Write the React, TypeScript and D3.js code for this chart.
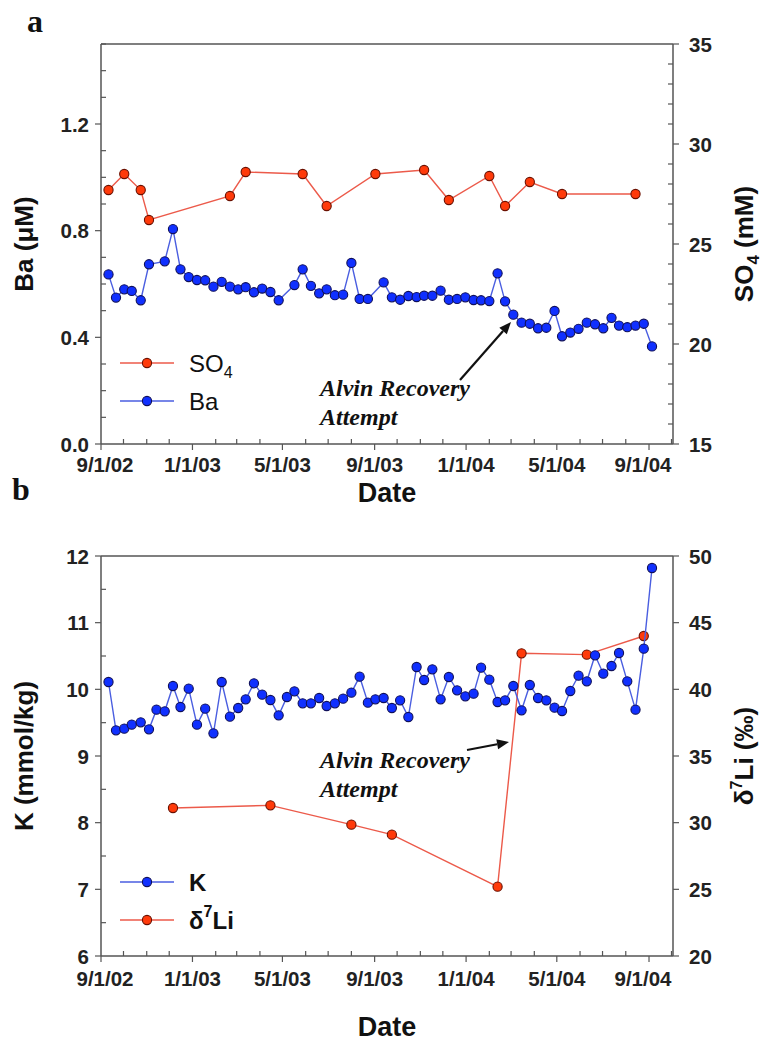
import React from "react";
import * as d3 from "d3";

// ---------- data ----------
const so4Dates = ["2002-09-11","2002-10-02","2002-10-24","2002-11-04","2003-02-20","2003-03-13","2003-05-28","2003-06-29","2003-09-02","2003-11-06","2003-12-09","2004-02-01","2004-02-22","2004-03-26","2004-05-08","2004-08-14"];
const so4Values = [27.7,28.5,27.7,26.2,27.4,28.6,28.5,26.9,28.5,28.7,27.2,28.4,26.9,28.1,27.5,27.5];

const baDates = ["2002-09-11","2002-09-21","2002-10-02","2002-10-12","2002-10-24","2002-11-04","2002-11-25","2002-12-06","2002-12-16","2002-12-27","2003-01-07","2003-01-18","2003-01-29","2003-02-09","2003-02-20","2003-03-03","2003-03-13","2003-03-24","2003-04-04","2003-04-15","2003-04-26","2003-05-17","2003-05-28","2003-06-08","2003-06-19","2003-06-29","2003-07-10","2003-07-21","2003-08-01","2003-08-12","2003-08-23",
"2003-09-13","2003-09-24","2003-10-05","2003-10-16","2003-10-27","2003-11-06","2003-11-17","2003-11-28","2003-12-09","2003-12-20","2003-12-31","2004-01-11","2004-01-21","2004-02-01","2004-02-12","2004-02-22","2004-03-04","2004-03-15","2004-03-26","2004-04-06","2004-04-17","2004-04-28","2004-05-08","2004-05-19","2004-05-30","2004-06-10","2004-06-21","2004-07-02","2004-07-13","2004-07-23","2004-08-03","2004-08-14","2004-08-25","2004-09-05"];
const baValues = [0.636,0.549,0.580,0.574,0.539,0.674,0.685,0.806,0.655,0.626,0.615,0.614,0.590,0.608,0.590,0.580,0.588,0.569,0.583,0.570,0.539,0.596,0.655,0.593,0.565,0.580,0.558,0.560,0.679,0.544,0.544,
0.606,0.550,0.541,0.555,0.551,0.556,0.556,0.575,0.541,0.544,0.550,0.540,0.539,0.536,0.640,0.535,0.485,0.455,0.451,0.434,0.436,0.499,0.404,0.418,0.432,0.455,0.449,0.434,0.473,0.444,0.438,0.444,0.451,0.366];

const kDates = ["2002-09-11","2002-09-21","2002-10-02","2002-10-12","2002-10-24","2002-11-04","2002-11-14","2002-11-25","2002-12-06","2002-12-16","2002-12-27","2003-01-07","2003-01-18","2003-01-29","2003-02-09","2003-02-20","2003-03-03","2003-03-13","2003-03-24","2003-04-04","2003-04-15","2003-04-26","2003-05-07","2003-05-17","2003-05-28","2003-06-08","2003-06-19","2003-06-29","2003-07-10","2003-07-21","2003-08-01","2003-08-12","2003-08-23","2003-09-02",
"2003-09-13","2003-09-24","2003-10-05","2003-10-16","2003-10-27","2003-11-06","2003-11-17","2003-11-28","2003-12-09","2003-12-20","2003-12-31","2004-01-11","2004-01-21","2004-02-01","2004-02-12","2004-02-22","2004-03-04","2004-03-15","2004-03-26","2004-04-06","2004-04-17","2004-04-28","2004-05-08","2004-05-19","2004-05-30","2004-06-10","2004-06-21","2004-07-02","2004-07-13","2004-07-23","2004-08-03","2004-08-14","2004-08-25","2004-09-05"];
const kValues = [10.11,9.385,9.41,9.47,9.505,9.40,9.695,9.67,10.05,9.735,10.01,9.47,9.71,9.34,10.11,9.59,9.72,9.85,10.09,9.92,9.84,9.61,9.885,9.97,9.79,9.79,9.87,9.75,9.79,9.86,9.95,10.19,9.80,9.85,
9.87,9.72,9.835,9.585,10.335,10.14,10.30,9.85,10.185,9.985,9.895,9.935,10.325,10.145,9.81,9.835,10.05,9.685,10.065,9.87,9.835,9.725,9.675,9.975,10.205,10.12,10.51,10.235,10.35,10.545,10.12,9.695,10.61,11.82];

const liDates = ["2002-12-06","2003-04-15","2003-08-01","2003-09-24","2004-02-12","2004-03-15","2004-06-10","2004-08-25"];
const liValues = [31.1,31.3,29.85,29.1,25.2,42.7,42.6,44.0];

const baTicks = [0, 0.4, 0.8, 1.2];
const so4Ticks = [15, 20, 25, 30, 35];
const kTicks = [6, 7, 8, 9, 10, 11, 12];
const liTicks = [20, 25, 30, 35, 40, 45, 50];

// ---------- layout ----------
const W = 766, H = 1042;
const X0 = 101, X1 = 673;
const TOP_A = 44, BOT_A = 444;
const TOP_B = 556, BOT_B = 956;
const SANS = "'Liberation Sans', Arial, Helvetica, sans-serif";
const SERIF = "'Liberation Serif', 'Times New Roman', serif";
const AX = "#555";
const TICK_FS = 20.5;
const TITLE_FS = 26;
const RED_LINE = "#ec5a4a", RED_FILL = "#ff3a0a", RED_STROKE = "#6a1000";
const BLUE_LINE = "#4a5ee0", BLUE_FILL = "#1030ff", BLUE_STROKE = "#10105a";

const parse = d3.utcParse("%Y-%m-%d");
const x = d3.scaleUtc().domain([parse("2002-09-01")!, parse("2004-10-03")!]).range([X0, X1]);
const yBa = d3.scaleLinear().domain([0, 1.5]).range([BOT_A, TOP_A]);
const ySO4 = d3.scaleLinear().domain([15, 35]).range([BOT_A, TOP_A]);
const yK = d3.scaleLinear().domain([6, 12]).range([BOT_B, TOP_B]);
const yLi = d3.scaleLinear().domain([20, 50]).range([BOT_B, TOP_B]);

const months = d3.utcMonth.range(parse("2002-09-01")!, parse("2004-10-02")!);

function Series({ dates, values, y, line, fill, stroke }: any) {
  const pts: [number, number][] = dates.map((d: string, i: number) => [x(parse(d)!), y(values[i])]);
  const path = d3.line()(pts) || "";
  return (
    <g>
      <path d={path} fill="none" stroke={line} strokeWidth={1.4} />
      {pts.map((p, i) => (
        <circle key={i} cx={p[0]} cy={p[1]} r={4.6} fill={fill} stroke={stroke} strokeWidth={1.1} />
      ))}
    </g>
  );
}

function XAxis({ yPos, labelY }: { yPos: number; labelY: number }) {
  return (
    <g>
      <line x1={X0} x2={X1} y1={yPos} y2={yPos} stroke={AX} strokeWidth={1.5} />
      {months.map((m, i) => {
        const major = m.getUTCMonth() % 4 === 0;
        const px = x(m);
        return <line key={i} x1={px} x2={px} y1={yPos} y2={major ? yPos + 6 : yPos - 5} stroke={AX} strokeWidth={1.2} />;
      })}
      {months.filter((m) => m.getUTCMonth() % 4 === 0).map((m, i, arr) => {
        const label = `${m.getUTCMonth() + 1}/1/${String(m.getUTCFullYear()).slice(2)}`;
        const dx = i === 0 ? 4 : i === arr.length - 1 ? -6 : 0;
        return (
          <text key={i} x={x(m) + dx} y={labelY} textAnchor="middle" fontFamily={SANS} fontWeight="bold" fontSize={TICK_FS} fill="#222">
            {label}
          </text>
        );
      })}
    </g>
  );
}

function LeftAxis({ scale, minorStep, majors, top, bot, fmt }: any) {
  const [d0, d1] = scale.domain();
  const minors = d3.range(d0, d1 + 1e-9, minorStep);
  return (
    <g>
      <line x1={X0} x2={X0} y1={top} y2={bot} stroke={AX} strokeWidth={1.5} />
      {minors.map((v: number, i: number) => {
        const isMajor = majors.some((m: number) => Math.abs(m - v) < 1e-6);
        return <line key={i} x1={X0} x2={isMajor ? X0 - 6 : X0 + 5} y1={scale(v)} y2={scale(v)} stroke={AX} strokeWidth={1.2} />;
      })}
      {majors.map((v: number, i: number) => (
        <text key={i} x={X0 - 12} y={scale(v) + 7.5} textAnchor="end" fontFamily={SANS} fontWeight="bold" fontSize={TICK_FS} fill="#222">
          {fmt(v)}
        </text>
      ))}
    </g>
  );
}

function RightAxis({ scale, minorStep, majors, top, bot }: any) {
  const [d0, d1] = scale.domain();
  const minors = minorStep ? d3.range(d0, d1 + 1e-9, minorStep) : majors;
  return (
    <g>
      <line x1={X1} x2={X1} y1={top} y2={bot} stroke={AX} strokeWidth={1.5} />
      {minors.map((v: number, i: number) => {
        const isMajor = majors.some((m: number) => Math.abs(m - v) < 1e-6);
        return <line key={i} x1={X1} x2={isMajor ? X1 + 6 : X1 - 5} y1={scale(v)} y2={scale(v)} stroke={AX} strokeWidth={1.2} />;
      })}
      {majors.map((v: number, i: number) => (
        <text key={i} x={X1 + 16} y={scale(v) + 7.5} textAnchor="start" fontFamily={SANS} fontWeight="bold" fontSize={TICK_FS} fill="#222">
          {v}
        </text>
      ))}
    </g>
  );
}

function Arrow({ x1, y1, x2, y2 }: any) {
  const ang = Math.atan2(y2 - y1, x2 - x1);
  const L = 12, Wd = 5;
  const bx = x2 - L * Math.cos(ang), by = y2 - L * Math.sin(ang);
  const p1 = [bx + Wd * Math.sin(ang), by - Wd * Math.cos(ang)];
  const p2 = [bx - Wd * Math.sin(ang), by + Wd * Math.cos(ang)];
  return (
    <g>
      <line x1={x1} y1={y1} x2={bx} y2={by} stroke="#111" strokeWidth={2.2} />
      <polygon points={`${x2},${y2} ${p1[0]},${p1[1]} ${p2[0]},${p2[1]}`} fill="#111" />
    </g>
  );
}

function LegendItem({ y, line, fill, stroke, children, bold }: any) {
  return (
    <g>
      <line x1={120} x2={174} y1={y} y2={y} stroke={line} strokeWidth={1.4} />
      <circle cx={147} cy={y} r={4.6} fill={fill} stroke={stroke} strokeWidth={1.1} />
      <text x={189} y={y + 8.5} fontFamily={SANS} fontWeight={bold ? "bold" : "normal"} fontSize={24} fill="#111">
        {children}
      </text>
    </g>
  );
}

export default function App() {
  const midA = (TOP_A + BOT_A) / 2;
  const midB = (TOP_B + BOT_B) / 2;
  const midX = (X0 + X1) / 2;
  const annot = { fontFamily: SERIF, fontStyle: "italic", fontWeight: "bold", fontSize: 24, fill: "#111" } as any;
  return (
    <svg width={W} height={H} viewBox={`0 0 ${W} ${H}`} style={{ position: "absolute", left: 0, top: 0, background: "#fff" }}>
      <rect width={W} height={H} fill="#fff" />
      {/* ---------- Panel a ---------- */}
      <text x={27} y={32} fontFamily={SERIF} fontWeight="bold" fontSize={32} fill="#111">a</text>
      <line x1={X0} x2={X1} y1={TOP_A} y2={TOP_A} stroke={AX} strokeWidth={1.5} />
      <LeftAxis scale={yBa} minorStep={0.1} majors={baTicks} top={TOP_A} bot={BOT_A} fmt={(v: number) => v.toFixed(1)} />
      <RightAxis scale={ySO4} minorStep={1} majors={so4Ticks} top={TOP_A} bot={BOT_A} />
      <XAxis yPos={BOT_A} labelY={472} />
      <Series dates={so4Dates} values={so4Values} y={ySO4} line={RED_LINE} fill={RED_FILL} stroke={RED_STROKE} />
      <Series dates={baDates} values={baValues} y={yBa} line={BLUE_LINE} fill={BLUE_FILL} stroke={BLUE_STROKE} />
      <text transform={`translate(33,${midA}) rotate(-90)`} textAnchor="middle" fontFamily={SANS} fontWeight="bold" fontSize={TITLE_FS} fill="#111">Ba (μM)</text>
      <text transform={`translate(753,${midA}) rotate(-90)`} textAnchor="middle" fontFamily={SANS} fontWeight="bold" fontSize={TITLE_FS} fill="#111">
        SO<tspan fontSize={17} dy={6}>4</tspan><tspan dy={-6}> (mM)</tspan>
      </text>
      <text x={midX} y={502} textAnchor="middle" fontFamily={SANS} fontWeight="bold" fontSize={27} fill="#111">Date</text>
      <LegendItem y={363} line={RED_LINE} fill={RED_FILL} stroke={RED_STROKE}>
        SO<tspan fontSize={16} dy={6}>4</tspan>
      </LegendItem>
      <LegendItem y={401} line={BLUE_LINE} fill={BLUE_FILL} stroke={BLUE_STROKE}>Ba</LegendItem>
      <text x={320} y={396} {...annot}>Alvin Recovery</text>
      <text x={320} y={425} {...annot}>Attempt</text>
      <Arrow x1={460} y1={380} x2={511} y2={322} />

      {/* ---------- Panel b ---------- */}
      <text x={12} y={500} fontFamily={SERIF} fontWeight="bold" fontSize={32} fill="#111">b</text>
      <line x1={X0} x2={X1} y1={TOP_B} y2={TOP_B} stroke={AX} strokeWidth={1.5} />
      <LeftAxis scale={yK} minorStep={0.5} majors={kTicks} top={TOP_B} bot={BOT_B} fmt={(v: number) => String(v)} />
      <RightAxis scale={yLi} minorStep={0} majors={liTicks} top={TOP_B} bot={BOT_B} />
      <XAxis yPos={BOT_B} labelY={986} />
      <Series dates={liDates} values={liValues} y={yLi} line={RED_LINE} fill={RED_FILL} stroke={RED_STROKE} />
      <Series dates={kDates} values={kValues} y={yK} line={BLUE_LINE} fill={BLUE_FILL} stroke={BLUE_STROKE} />
      <text transform={`translate(33,${midB}) rotate(-90)`} textAnchor="middle" fontFamily={SANS} fontWeight="bold" fontSize={TITLE_FS} fill="#111">K (mmol/kg)</text>
      <text transform={`translate(753,${midB}) rotate(-90)`} textAnchor="middle" fontFamily={SANS} fontWeight="bold" fontSize={TITLE_FS} fill="#111">
        δ<tspan fontSize={16} dy={-11}>7</tspan><tspan dy={11}>Li (‰)</tspan>
      </text>
      <text x={midX} y={1036} textAnchor="middle" fontFamily={SANS} fontWeight="bold" fontSize={27} fill="#111">Date</text>
      <LegendItem y={882} line={BLUE_LINE} fill={BLUE_FILL} stroke={BLUE_STROKE} bold>K</LegendItem>
      <LegendItem y={920} line={RED_LINE} fill={RED_FILL} stroke={RED_STROKE} bold>
        {"  δ"}<tspan fontSize={16} dy={-12}>7</tspan><tspan dy={12}>Li</tspan>
      </LegendItem>
      <text x={320} y={768} {...annot}>Alvin Recovery</text>
      <text x={320} y={797} {...annot}>Attempt</text>
      <Arrow x1={467} y1={750} x2={509} y2={742} />
    </svg>
  );
}
